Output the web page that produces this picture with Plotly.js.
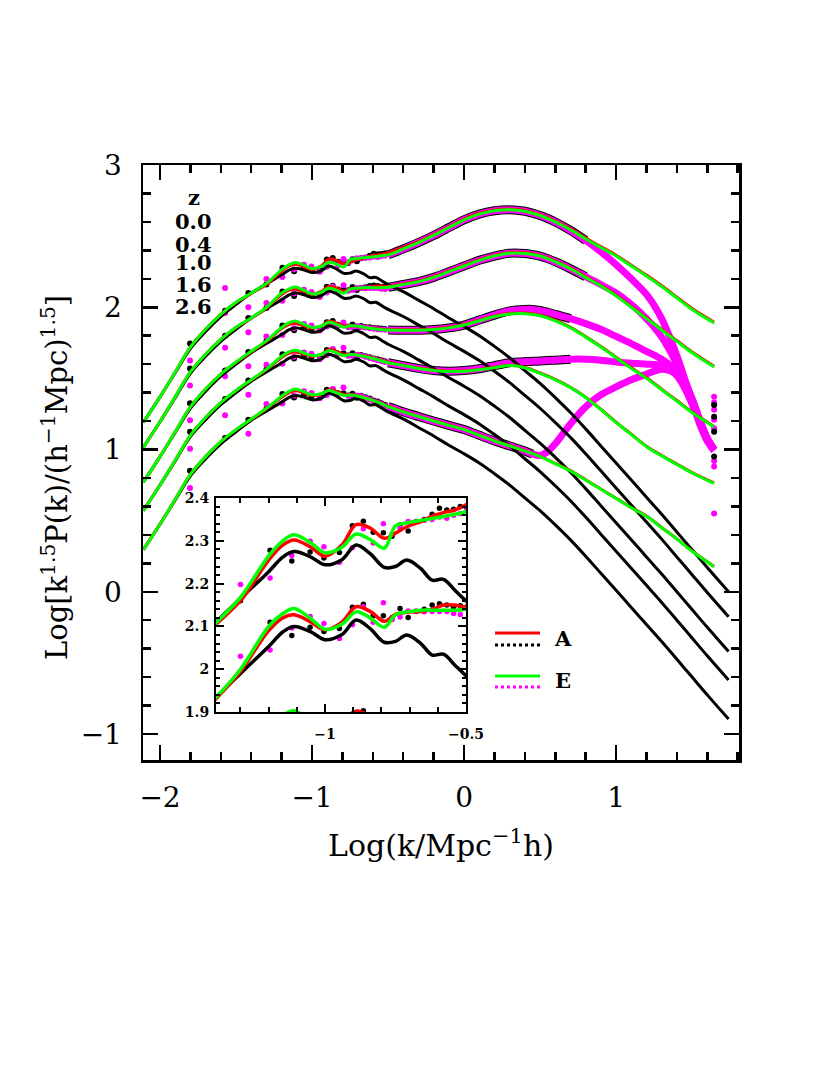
<!DOCTYPE html>
<html>
<head>
<meta charset="utf-8">
<script src="https://cdn.plot.ly/plotly-3.0.1.min.js"></script>
<style>
  html, body { margin: 0; padding: 0; background: #fff; }
  #plot { width: 830px; height: 1075px; }
</style>
</head>
<body>
<div id="plot"></div>
<script>
// Redshifts of the five curve groups (top to bottom)
const zLabels = ['0.0', '0.4', '1.0', '1.6', '2.6'];

// x grid of the linear spectra (black) and of the two models (A red, E green)
const xLin = [-2.11, -2.0, -1.9, -1.8, -1.7, -1.6, -1.5, -1.4, -1.3, -1.2, -1.15, -1.11, -1.05, -1.0, -0.94, -0.89, -0.84, -0.79, -0.75, -0.71, -0.66, -0.62, -0.58, -0.54, -0.5, -0.4, -0.3, -0.2, -0.1, 0, 0.1, 0.2, 0.3, 0.4, 0.5, 0.6, 0.7, 0.8, 0.9, 1.0, 1.1, 1.2, 1.3, 1.4, 1.5, 1.6, 1.74];
const xModel = [-2.11, -2.0, -1.9, -1.8, -1.7, -1.6, -1.5, -1.4, -1.3, -1.2, -1.15, -1.11, -1.05, -1.0, -0.94, -0.89, -0.84, -0.79, -0.75, -0.71, -0.66, -0.62, -0.58, -0.54, -0.5, -0.4, -0.3, -0.2, -0.1, 0, 0.1, 0.2, 0.3, 0.4, 0.5, 0.6, 0.7, 0.8, 0.9, 1.0, 1.1, 1.2, 1.3, 1.4, 1.5, 1.645];

// linear spectra
const linZ00 = [1.19, 1.37, 1.54, 1.71, 1.83, 1.935, 2.02, 2.10, 2.165, 2.228, 2.262, 2.275, 2.262, 2.244, 2.256, 2.29, 2.27, 2.238, 2.24, 2.255, 2.235, 2.208, 2.21, 2.185, 2.16, 2.11, 2.05, 1.99, 1.925, 1.865, 1.80, 1.725, 1.645, 1.555, 1.465, 1.365, 1.26, 1.145, 1.025, 0.905, 0.785, 0.665, 0.545, 0.42, 0.295, 0.17, 0.0];
const linZ04 = [1.015, 1.195, 1.365, 1.535, 1.655, 1.76, 1.845, 1.925, 1.99, 2.053, 2.087, 2.10, 2.087, 2.069, 2.081, 2.115, 2.095, 2.063, 2.065, 2.08, 2.06, 2.033, 2.035, 2.01, 1.985, 1.935, 1.875, 1.815, 1.75, 1.69, 1.625, 1.55, 1.47, 1.38, 1.29, 1.19, 1.085, 0.97, 0.85, 0.73, 0.61, 0.49, 0.37, 0.245, 0.12, -0.005, -0.175];
const linZ10 = [0.77, 0.95, 1.12, 1.29, 1.41, 1.515, 1.60, 1.68, 1.745, 1.808, 1.842, 1.855, 1.842, 1.824, 1.836, 1.87, 1.85, 1.818, 1.82, 1.835, 1.815, 1.788, 1.79, 1.765, 1.74, 1.69, 1.63, 1.57, 1.505, 1.445, 1.38, 1.305, 1.225, 1.135, 1.045, 0.945, 0.84, 0.725, 0.605, 0.485, 0.365, 0.245, 0.125, 0.0, -0.125, -0.25, -0.42];
const linZ16 = [0.57, 0.75, 0.92, 1.09, 1.21, 1.315, 1.40, 1.48, 1.545, 1.608, 1.642, 1.655, 1.642, 1.624, 1.636, 1.67, 1.65, 1.618, 1.62, 1.635, 1.615, 1.588, 1.59, 1.565, 1.54, 1.49, 1.43, 1.37, 1.305, 1.245, 1.18, 1.105, 1.025, 0.935, 0.845, 0.745, 0.64, 0.525, 0.405, 0.285, 0.165, 0.045, -0.075, -0.2, -0.325, -0.45, -0.62];
const linZ26 = [0.295, 0.475, 0.645, 0.815, 0.935, 1.04, 1.125, 1.205, 1.27, 1.333, 1.367, 1.38, 1.367, 1.349, 1.361, 1.395, 1.375, 1.343, 1.345, 1.36, 1.34, 1.313, 1.315, 1.29, 1.265, 1.215, 1.155, 1.095, 1.03, 0.97, 0.905, 0.83, 0.75, 0.66, 0.57, 0.47, 0.365, 0.25, 0.13, 0.01, -0.11, -0.23, -0.35, -0.475, -0.6, -0.725, -0.895];

// model A (red)
const modAZ00 = [1.19, 1.37, 1.545, 1.72, 1.845, 1.95, 2.033, 2.097, 2.16, 2.255, 2.29, 2.302, 2.285, 2.264, 2.29, 2.338, 2.33, 2.306, 2.318, 2.333, 2.345, 2.358, 2.366, 2.372, 2.384, 2.42, 2.462, 2.511, 2.566, 2.621, 2.661, 2.684, 2.691, 2.681, 2.651, 2.606, 2.551, 2.486, 2.426, 2.366, 2.296, 2.226, 2.151, 2.071, 1.991, 1.895];
const modAZ04 = [1.015, 1.195, 1.37, 1.545, 1.67, 1.775, 1.858, 1.922, 1.995, 2.09, 2.12, 2.127, 2.11, 2.092, 2.11, 2.146, 2.135, 2.112, 2.128, 2.133, 2.135, 2.14, 2.15, 2.15, 2.146, 2.165, 2.185, 2.215, 2.255, 2.295, 2.335, 2.365, 2.385, 2.383, 2.365, 2.325, 2.275, 2.215, 2.155, 2.085, 2.005, 1.925, 1.845, 1.765, 1.685, 1.585];
const modAZ10 = [0.77, 0.95, 1.125, 1.30, 1.425, 1.53, 1.613, 1.687, 1.76, 1.85, 1.88, 1.886, 1.87, 1.853, 1.868, 1.902, 1.89, 1.868, 1.87, 1.867, 1.86, 1.853, 1.85, 1.845, 1.843, 1.842, 1.842, 1.847, 1.859, 1.879, 1.909, 1.939, 1.957, 1.959, 1.944, 1.909, 1.859, 1.794, 1.724, 1.649, 1.574, 1.504, 1.424, 1.344, 1.264, 1.162];
const modAZ16 = [0.57, 0.75, 0.925, 1.10, 1.225, 1.33, 1.413, 1.487, 1.56, 1.647, 1.678, 1.686, 1.67, 1.655, 1.668, 1.702, 1.69, 1.668, 1.67, 1.666, 1.657, 1.648, 1.638, 1.625, 1.613, 1.593, 1.573, 1.559, 1.551, 1.553, 1.563, 1.578, 1.593, 1.578, 1.538, 1.493, 1.438, 1.368, 1.283, 1.193, 1.108, 1.023, 0.958, 0.898, 0.838, 0.765];
const modAZ26 = [0.295, 0.475, 0.65, 0.825, 0.95, 1.055, 1.138, 1.212, 1.285, 1.367, 1.40, 1.413, 1.397, 1.38, 1.39, 1.42, 1.408, 1.387, 1.385, 1.379, 1.366, 1.353, 1.339, 1.322, 1.304, 1.267, 1.234, 1.202, 1.172, 1.142, 1.102, 1.062, 1.027, 0.992, 0.952, 0.902, 0.852, 0.787, 0.722, 0.657, 0.592, 0.532, 0.452, 0.372, 0.287, 0.178];

// model E (green)
const modEZ00 = [1.19, 1.37, 1.545, 1.72, 1.845, 1.95, 2.035, 2.10, 2.168, 2.265, 2.30, 2.314, 2.295, 2.272, 2.285, 2.316, 2.303, 2.283, 2.335, 2.342, 2.348, 2.352, 2.357, 2.362, 2.368, 2.41, 2.455, 2.505, 2.56, 2.615, 2.655, 2.678, 2.685, 2.675, 2.645, 2.60, 2.545, 2.48, 2.42, 2.36, 2.29, 2.22, 2.145, 2.065, 1.985, 1.889];
const modEZ04 = [1.015, 1.195, 1.37, 1.545, 1.67, 1.775, 1.86, 1.925, 2.0, 2.10, 2.13, 2.142, 2.118, 2.093, 2.105, 2.134, 2.12, 2.098, 2.127, 2.134, 2.138, 2.138, 2.138, 2.138, 2.14, 2.16, 2.18, 2.21, 2.25, 2.29, 2.33, 2.36, 2.38, 2.378, 2.36, 2.32, 2.27, 2.21, 2.15, 2.08, 2.0, 1.92, 1.84, 1.76, 1.68, 1.58];
const modEZ10 = [0.77, 0.95, 1.125, 1.30, 1.425, 1.53, 1.615, 1.69, 1.765, 1.858, 1.892, 1.903, 1.878, 1.858, 1.868, 1.895, 1.88, 1.86, 1.87, 1.868, 1.86, 1.852, 1.848, 1.842, 1.84, 1.838, 1.838, 1.843, 1.855, 1.875, 1.905, 1.935, 1.953, 1.955, 1.94, 1.905, 1.855, 1.79, 1.72, 1.645, 1.57, 1.50, 1.42, 1.34, 1.26, 1.158];
const modEZ16 = [0.57, 0.75, 0.925, 1.10, 1.225, 1.33, 1.415, 1.49, 1.565, 1.655, 1.688, 1.698, 1.678, 1.66, 1.668, 1.695, 1.68, 1.66, 1.668, 1.665, 1.655, 1.645, 1.635, 1.622, 1.61, 1.59, 1.57, 1.556, 1.548, 1.55, 1.56, 1.575, 1.59, 1.575, 1.535, 1.49, 1.435, 1.365, 1.28, 1.19, 1.105, 1.02, 0.955, 0.895, 0.835, 0.762];
const modEZ26 = [0.295, 0.475, 0.65, 0.825, 0.95, 1.055, 1.14, 1.215, 1.29, 1.375, 1.41, 1.425, 1.405, 1.385, 1.392, 1.415, 1.40, 1.38, 1.383, 1.378, 1.365, 1.352, 1.338, 1.32, 1.302, 1.265, 1.232, 1.20, 1.17, 1.14, 1.10, 1.06, 1.025, 0.99, 0.95, 0.90, 0.85, 0.785, 0.72, 0.655, 0.59, 0.53, 0.45, 0.37, 0.285, 0.176];

// simulation points at low k (black = A, magenta = E)
const dotX = [-1.803, -1.572, -1.419, -1.30, -1.195, -1.118, -1.053, -1.004, -0.949, -0.903, -0.864, -0.829, -0.793, -0.762, -0.734, -0.705, -0.677, -0.648, -0.62, -0.594, -0.568, -0.544, -0.52];
const simAZ00 = [1.746, 1.975, 2.10, 2.16, 2.278, 2.253, 2.274, 2.26, 2.273, 2.335, 2.346, 2.32, 2.319, 2.311, 2.337, 2.323, 2.345, 2.35, 2.362, 2.376, 2.372, 2.374, 2.38];
const simEZ00 = [1.626, 2.135, 2.0, 2.198, 2.213, 2.266, 2.299, 2.286, 2.25, 2.284, 2.328, 2.295, 2.34, 2.316, 2.33, 2.345, 2.345, 2.348, 2.35, 2.356, 2.353, 2.36, 2.364];
const simAZ04 = [1.57, 1.80, 1.925, 1.995, 2.11, 2.079, 2.098, 2.088, 2.095, 2.145, 2.152, 2.125, 2.125, 2.12, 2.142, 2.121, 2.135, 2.14, 2.15, 2.153, 2.15, 2.145, 2.148];
const simEZ04 = [1.45, 1.96, 1.825, 2.03, 2.045, 2.096, 2.123, 2.107, 2.072, 2.104, 2.146, 2.11, 2.155, 2.116, 2.122, 2.136, 2.136, 2.134, 2.135, 2.135, 2.135, 2.13, 2.128];
const simAZ10 = [1.325, 1.555, 1.685, 1.762, 1.872, 1.838, 1.858, 1.847, 1.853, 1.895, 1.903, 1.877, 1.876, 1.863, 1.878, 1.854, 1.868, 1.862, 1.86, 1.855, 1.852, 1.85, 1.848];
const simEZ10 = [1.205, 1.715, 1.585, 1.795, 1.805, 1.852, 1.882, 1.872, 1.836, 1.864, 1.888, 1.872, 1.892, 1.863, 1.86, 1.869, 1.862, 1.857, 1.852, 1.849, 1.845, 1.843, 1.842];
const simAZ16 = [1.125, 1.355, 1.485, 1.562, 1.67, 1.639, 1.658, 1.65, 1.653, 1.70, 1.703, 1.675, 1.676, 1.661, 1.677, 1.651, 1.665, 1.655, 1.648, 1.64, 1.634, 1.628, 1.62];
const simEZ16 = [1.005, 1.515, 1.385, 1.595, 1.603, 1.652, 1.682, 1.673, 1.635, 1.664, 1.706, 1.671, 1.716, 1.661, 1.659, 1.666, 1.66, 1.652, 1.643, 1.636, 1.628, 1.622, 1.615];
const simAZ26 = [0.85, 1.08, 1.21, 1.287, 1.39, 1.366, 1.385, 1.375, 1.378, 1.42, 1.423, 1.395, 1.396, 1.379, 1.392, 1.364, 1.378, 1.368, 1.358, 1.345, 1.337, 1.325, 1.315];
const simEZ26 = [0.73, 1.24, 1.11, 1.32, 1.323, 1.379, 1.409, 1.398, 1.36, 1.384, 1.426, 1.391, 1.436, 1.378, 1.372, 1.379, 1.374, 1.362, 1.352, 1.34, 1.33, 1.32, 1.308];

// dense simulation points at high k, traced as a band
const bandX = [-0.5, -0.4, -0.3, -0.2, -0.1, 0, 0.1, 0.2, 0.3, 0.4, 0.45, 0.5, 0.55, 0.6, 0.7, 0.8, 0.9, 1.0, 1.1, 1.2, 1.3, 1.4, 1.5, 1.55, 1.6, 1.645];
const bandZ00 = [2.368, 2.41, 2.455, 2.505, 2.56, 2.615, 2.655, 2.678, 2.685, 2.675, 2.662, 2.645, 2.624, 2.60, 2.54, 2.47, 2.39, 2.30, 2.20, 2.09, 1.92, 1.66, 1.34, 1.18, 1.06, 0.99];
const bandZ04 = [2.14, 2.16, 2.18, 2.21, 2.25, 2.29, 2.33, 2.36, 2.38, 2.378, 2.37, 2.36, 2.342, 2.32, 2.27, 2.215, 2.16, 2.10, 2.02, 1.92, 1.79, 1.60, 1.36, 1.21, 1.08, 1.0];
const bandZ10 = [1.84, 1.838, 1.838, 1.843, 1.855, 1.875, 1.91, 1.945, 1.975, 1.985, 1.985, 1.978, 1.965, 1.95, 1.92, 1.885, 1.845, 1.795, 1.745, 1.69, 1.635, 1.55, 1.35, 1.21, 1.08, 1.0];
const bandZ16 = [1.61, 1.59, 1.57, 1.556, 1.55, 1.555, 1.568, 1.59, 1.61, 1.618, 1.62, 1.622, 1.625, 1.628, 1.635, 1.635, 1.628, 1.615, 1.607, 1.60, 1.59, 1.52, 1.33, 1.20, 1.07, 1.0];
const bandZ26 = [1.302, 1.265, 1.232, 1.20, 1.17, 1.14, 1.10, 1.06, 1.025, 0.99, 0.968, 0.958, 0.985, 1.04, 1.18, 1.30, 1.385, 1.44, 1.49, 1.53, 1.565, 1.53, 1.32, 1.19, 1.07, 1.0];
// where the A points stop showing along the band
const bandAEnd = [0.8, 0.8, 0.7, 0.7, 0.45];

// last k bin
const edgeX = 1.645;
const edgeA = [1.313, 1.23, 1.125, 0.95];
const edgeE = [1.37, 1.33, 1.28, 1.21, 1.15, 0.92, 0.88, 0.55];

const linCurves = [linZ00, linZ04, linZ10, linZ16, linZ26];
const modA = [modAZ00, modAZ04, modAZ10, modAZ16, modAZ26];
const modE = [modEZ00, modEZ04, modEZ10, modEZ16, modEZ26];
const simA = [simAZ00, simAZ04, simAZ10, simAZ16, simAZ26];
const simE = [simEZ00, simEZ04, simEZ10, simEZ16, simEZ26];
const bands = [bandZ00, bandZ04, bandZ10, bandZ16, bandZ26];

const BLACK = '#000000';
const RED = '#ff0000';
const GREEN = '#00ff00';
const MAGENTA = '#ff00ff';
const SERIF = 'DejaVu Serif, serif';

function buildTraces(xa, ya, lw, ms) {
    const traces = [];
    const ax = {xaxis: xa, yaxis: ya, hoverinfo: 'skip'};
    for (let i = 0; i < 5; i++) {
        traces.push({...ax, x: dotX, y: simA[i], mode: 'markers', marker: {color: BLACK, size: ms}});
    }
    for (let i = 0; i < 5; i++) {
        traces.push({...ax, x: dotX, y: simE[i], mode: 'markers', marker: {color: MAGENTA, size: ms}});
    }
    for (let i = 0; i < 5; i++) {
        const n = bandX.filter((x) => x <= bandAEnd[i]).length;
        traces.push({...ax, x: bandX.slice(0, n), y: bands[i].slice(0, n), mode: 'lines',
            line: {color: BLACK, width: 9, shape: 'spline', smoothing: 0.8}});
    }
    for (let i = 0; i < 5; i++) {
        traces.push({...ax, x: bandX, y: bands[i], mode: 'lines',
            line: {color: MAGENTA, width: 7, shape: 'spline', smoothing: 0.8}});
    }
    traces.push({...ax, x: edgeE.map(() => edgeX), y: edgeE, mode: 'markers', marker: {color: MAGENTA, size: ms}});
    traces.push({...ax, x: edgeA.map(() => edgeX), y: edgeA, mode: 'markers', marker: {color: BLACK, size: ms}});
    for (let i = 0; i < 5; i++) {
        traces.push({...ax, x: xLin, y: linCurves[i], mode: 'lines', line: {color: BLACK, width: lw, shape: 'spline'}});
    }
    for (let i = 0; i < 5; i++) {
        traces.push({...ax, x: xModel, y: modA[i], mode: 'lines', line: {color: RED, width: lw, shape: 'spline'}});
    }
    for (let i = 0; i < 5; i++) {
        traces.push({...ax, x: xModel, y: modE[i], mode: 'lines', line: {color: GREEN, width: lw, shape: 'spline'}});
    }
    return traces;
}

const traces = buildTraces('x', 'y', 3, 6).concat(buildTraces('x2', 'y2', 3.5, 5.5));

const frame = {
    showline: true, linecolor: BLACK, linewidth: 2.5, mirror: 'allticks',
    ticks: 'inside', tickcolor: BLACK, tickwidth: 2.5,
    showgrid: false, zeroline: false, fixedrange: true,
};

function label(text, x, y, size, extra) {
    return {xref: 'paper', yref: 'paper', x: x, y: y, xanchor: 'center', yanchor: 'middle',
        showarrow: false, text: text, font: {family: SERIF, size: size, color: BLACK, ...extra}};
}

const layout = {
    width: 830,
    height: 1075,
    margin: {l: 0, r: 0, t: 0, b: 0},
    paper_bgcolor: '#ffffff',
    plot_bgcolor: '#fffffe',
    showlegend: false,
    xaxis: {
        ...frame, domain: [0.1723, 0.8904], range: [-2.112, 1.809], anchor: 'y',
        tick0: 0, dtick: 1, ticklen: 15, ticklabelstandoff: 11,
        minor: {dtick: 0.2, ticklen: 8, tickwidth: 2.5, tickcolor: BLACK, ticks: 'inside'},
        tickfont: {family: SERIF, size: 28, color: BLACK},
    },
    yaxis: {
        ...frame, domain: [0.2930, 0.8465], range: [-1.183, 3], anchor: 'x',
        tick0: 0, dtick: 1, ticklen: 15, ticklabelstandoff: 13,
        minor: {dtick: 0.2, ticklen: 8, tickwidth: 2.5, tickcolor: BLACK, ticks: 'inside'},
        tickfont: {family: SERIF, size: 28, color: BLACK},
    },
    xaxis2: {
        ...frame, linewidth: 2, tickwidth: 2, domain: [0.2602, 0.5614], range: [-1.387, -0.5], anchor: 'y2',
        tick0: 0, dtick: 0.5, ticklen: 8, ticklabelstandoff: 8,
        minor: {dtick: 0.1, ticklen: 5, tickwidth: 2, tickcolor: BLACK, ticks: 'inside'},
        tickfont: {family: SERIF, size: 14, color: BLACK, weight: 'bold'},
    },
    yaxis2: {
        ...frame, linewidth: 2, tickwidth: 2, domain: [0.3377, 0.5367], range: [1.9, 2.4], anchor: 'x2',
        tick0: 0, dtick: 0.1, ticklen: 8, ticklabelstandoff: 2,
        minor: {dtick: 0.02, ticklen: 4, tickwidth: 2, tickcolor: BLACK, ticks: 'inside'},
        tickfont: {family: SERIF, size: 14, color: BLACK, weight: 'bold'},
    },
    annotations: [
        label('Log(k/Mpc<sup>−1</sup>h)', 0.5313, 0.2158, 30),
        {...label('Log[k<sup>1.5</sup>P(k)/(h<sup>−1</sup>Mpc)<sup>1.5</sup>]', 0.0663, 0.5553, 29), textangle: -90},
        label('z', 0.2337, 0.8167, 21, {weight: 'bold'}),
        label('A', 0.678, 0.4065, 21, {weight: 'bold'}),
        label('E', 0.678, 0.3674, 21, {weight: 'bold'}),
    ],
    shapes: [
        {type: 'line', xref: 'paper', yref: 'paper', x0: 0.5964, x1: 0.6506, y0: 0.4112, y1: 0.4112, line: {color: RED, width: 3}},
        {type: 'line', xref: 'paper', yref: 'paper', x0: 0.5964, x1: 0.6506, y0: 0.4000, y1: 0.4000, line: {color: BLACK, width: 3, dash: '3px,3px'}},
        {type: 'line', xref: 'paper', yref: 'paper', x0: 0.5964, x1: 0.6506, y0: 0.3712, y1: 0.3712, line: {color: GREEN, width: 3}},
        {type: 'line', xref: 'paper', yref: 'paper', x0: 0.5964, x1: 0.6506, y0: 0.3609, y1: 0.3609, line: {color: MAGENTA, width: 3, dash: '3px,3px'}},
    ],
};

// redshift list in the top left corner
const zLabelY = [0.7938, 0.7730, 0.7554, 0.7349, 0.7147];
zLabels.forEach((text, i) => {
    layout.annotations.push(label(text, 0.2337, zLabelY[i], 21, {weight: 'bold'}));
});

Plotly.newPlot('plot', traces, layout, {staticPlot: true});
</script>
</body>
</html>
